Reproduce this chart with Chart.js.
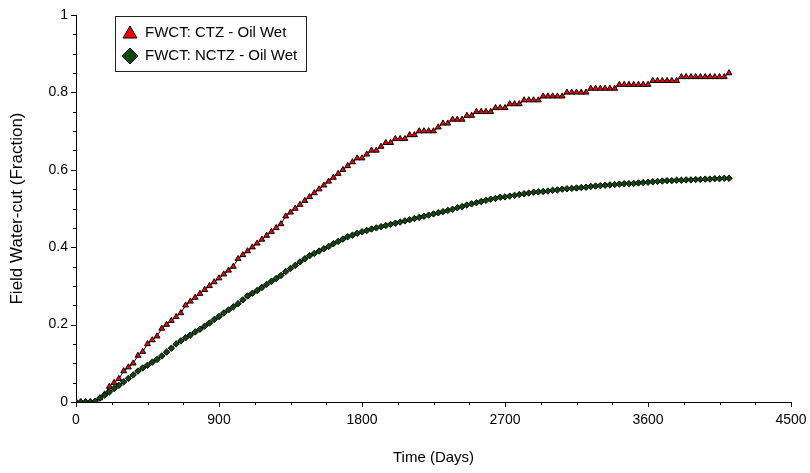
<!DOCTYPE html>
<html>
<head>
<meta charset="utf-8">
<script src="https://cdn.jsdelivr.net/npm/chart.js@4/dist/chart.umd.min.js"></script>
<style>
  body { margin: 0; background: #fff; }
  #wrap { width: 810px; height: 473px; }
</style>
</head>
<body>
<div id="wrap"><canvas id="chart"></canvas></div>
<script>
/*------data--------*/

const times = [
    0, 30, 60, 90, 120, 150, 180, 210, 240, 270,
    300, 330, 360, 390, 420, 450, 480, 510, 540, 570,
    600, 630, 660, 690, 720, 750, 780, 810, 840, 870,
    900, 930, 960, 990, 1020, 1050, 1080, 1110, 1140, 1170,
    1200, 1230, 1260, 1290, 1320, 1350, 1380, 1410, 1440, 1470,
    1500, 1530, 1560, 1590, 1620, 1650, 1680, 1710, 1740, 1770,
    1800, 1830, 1860, 1890, 1920, 1950, 1980, 2010, 2040, 2070,
    2100, 2130, 2160, 2190, 2220, 2250, 2280, 2310, 2340, 2370,
    2400, 2430, 2460, 2490, 2520, 2550, 2580, 2610, 2640, 2670,
    2700, 2730, 2760, 2790, 2820, 2850, 2880, 2910, 2940, 2970,
    3000, 3030, 3060, 3090, 3120, 3150, 3180, 3210, 3240, 3270,
    3300, 3330, 3360, 3390, 3420, 3450, 3480, 3510, 3540, 3570,
    3600, 3630, 3660, 3690, 3720, 3750, 3780, 3810, 3840, 3870,
    3900, 3930, 3960, 3990, 4020, 4050, 4080, 4110
];

// FWCT: CTZ - Oil Wet
const ctz = [
    0, 0, 0, 0, 0, 0.01, 0.02, 0.04, 0.05, 0.06,
    0.08, 0.09, 0.10, 0.12, 0.13, 0.15, 0.16, 0.17, 0.19, 0.20,
    0.21, 0.22, 0.23, 0.25, 0.26, 0.27, 0.28, 0.29, 0.30, 0.31,
    0.32, 0.33, 0.34, 0.35, 0.37, 0.38, 0.39, 0.40, 0.41, 0.42,
    0.43, 0.44, 0.45, 0.46, 0.48, 0.49, 0.50, 0.51, 0.52, 0.53,
    0.54, 0.55, 0.56, 0.57, 0.58, 0.59, 0.60, 0.61, 0.62, 0.63,
    0.63, 0.64, 0.65, 0.65, 0.66, 0.67, 0.67, 0.68, 0.68, 0.68,
    0.69, 0.69, 0.70, 0.70, 0.70, 0.70, 0.71, 0.72, 0.72, 0.73,
    0.73, 0.73, 0.74, 0.74, 0.75, 0.75, 0.75, 0.75, 0.76, 0.76,
    0.76, 0.77, 0.77, 0.77, 0.78, 0.78, 0.78, 0.78, 0.79, 0.79,
    0.79, 0.79, 0.79, 0.80, 0.80, 0.80, 0.80, 0.80, 0.81, 0.81,
    0.81, 0.81, 0.81, 0.81, 0.82, 0.82, 0.82, 0.82, 0.82, 0.82,
    0.82, 0.83, 0.83, 0.83, 0.83, 0.83, 0.83, 0.84, 0.84, 0.84,
    0.84, 0.84, 0.84, 0.84, 0.84, 0.84, 0.84, 0.85
];

// FWCT: NCTZ - Oil Wet
const nctz = [
    0, 0, 0, 0, 0.002, 0.01, 0.018, 0.026, 0.035, 0.043,
    0.052, 0.061, 0.07, 0.08, 0.088, 0.095, 0.103, 0.11, 0.119, 0.129,
    0.139, 0.15, 0.158, 0.166, 0.173, 0.181, 0.188, 0.196, 0.204, 0.213,
    0.221, 0.23, 0.238, 0.246, 0.254, 0.264, 0.274, 0.281, 0.288, 0.296,
    0.304, 0.312, 0.319, 0.327, 0.337, 0.345, 0.353, 0.362, 0.37, 0.378,
    0.384, 0.39, 0.396, 0.402, 0.409, 0.415, 0.421, 0.427, 0.431, 0.436,
    0.44, 0.443, 0.447, 0.45, 0.453, 0.456, 0.459, 0.462, 0.465, 0.468,
    0.471, 0.474, 0.477, 0.48, 0.483, 0.486, 0.489, 0.492, 0.495, 0.498,
    0.502, 0.505, 0.509, 0.512, 0.515, 0.518, 0.521, 0.524, 0.526, 0.529,
    0.53, 0.532, 0.534, 0.536, 0.538, 0.54, 0.542, 0.543, 0.544, 0.545,
    0.547, 0.548, 0.55, 0.551, 0.552, 0.553, 0.554, 0.555, 0.557, 0.558,
    0.559, 0.56, 0.561, 0.562, 0.563, 0.564, 0.564, 0.565, 0.566, 0.567,
    0.568, 0.569, 0.57, 0.571, 0.572, 0.572, 0.573, 0.573, 0.574, 0.574,
    0.575, 0.575, 0.576, 0.576, 0.577, 0.577, 0.578, 0.578
];

const seriesNames = ['FWCT: CTZ - Oil Wet', 'FWCT: NCTZ - Oil Wet'];
const xMax = 4500;
const xStep = 900;
const yStep = 0.2;
const fontFamily = '"Liberation Sans", Arial, sans-serif';

/*------minor ticks--------*/

const tickMarks = {
    id: 'tickMarks',
    afterDraw(chart) {
        const c = chart.ctx;
        const xs = chart.scales.x;
        const ys = chart.scales.y;
        c.save();
        c.strokeStyle = '#000';
        c.lineWidth = 1;
        c.beginPath();
        for (let v = 0; v <= xMax; v += 225) {
            const px = Math.round(xs.getPixelForValue(v)) + 0.5;
            const len = v % xStep === 0 ? 5 : 3;
            c.moveTo(px, ys.bottom);
            c.lineTo(px, ys.bottom + len);
        }
        for (let i = 0; i <= 20; i++) {
            const py = Math.round(ys.getPixelForValue(i * 0.05)) + 0.5;
            const len = i % 4 === 0 ? 5 : 3;
            c.moveTo(xs.left, py);
            c.lineTo(xs.left - len, py);
        }
        c.stroke();
        c.restore();
    }
};

/*------legend box--------*/

const legendBox = {
    id: 'legendBox',
    afterDraw(chart) {
        const c = chart.ctx;
        c.save();
        c.fillStyle = '#fff';
        c.fillRect(115.5, 16.5, 191, 55);
        c.strokeStyle = '#222';
        c.lineWidth = 1;
        c.strokeRect(115.5, 16.5, 191, 55);
        const rows = [33, 56];
        chart.data.datasets.forEach(function (ds, i) {
            c.fillStyle = ds.pointBackgroundColor;
            c.strokeStyle = '#000';
            c.lineWidth = 1;
            Chart.helpers.drawPoint(c, {
                pointStyle: ds.pointStyle,
                radius: 8,
                borderWidth: 1
            }, 130, rows[i] + (i === 0 ? 1 : 0));
            c.fillStyle = '#000';
            c.font = '15px ' + fontFamily;
            c.textBaseline = 'middle';
            c.textAlign = 'left';
            c.fillText(ds.label, 145, rows[i]);
        });
        c.restore();
    }
};

/*------chart--------*/

const ctx = document.getElementById('chart').getContext('2d');
const chart = new Chart(ctx, {
    type: 'scatter',
    data: {
        datasets: [{
            label: seriesNames[0],
            data: times.map((t, i) => ({ x: t, y: ctz[i] })),
            showLine: true,
            borderColor: '#000',
            borderWidth: 1,
            pointStyle: 'triangle',
            pointRadius: 3.4,
            pointBackgroundColor: '#ff0000',
            pointBorderColor: '#000',
            pointBorderWidth: 1,
            order: 2
        }, {
            label: seriesNames[1],
            data: times.map((t, i) => ({ x: t, y: nctz[i] })),
            showLine: true,
            borderColor: '#000',
            borderWidth: 1,
            pointStyle: 'rectRot',
            pointRadius: 3.2,
            pointBackgroundColor: '#0b4a0b',
            pointBorderColor: '#000',
            pointBorderWidth: 1,
            order: 1
        }]
    },
    options: {
        responsive: true,
        maintainAspectRatio: false,
        animation: false,
        layout: { padding: { left: 0, top: 15, right: 19, bottom: 0 } },
        plugins: {
            legend: { display: false },
            tooltip: { enabled: false }
        },
        scales: {
            x: {
                type: 'linear',
                min: 0,
                max: xMax,
                grid: { display: false, drawTicks: false },
                border: { display: true, color: '#000', width: 1 },
                ticks: {
                    stepSize: xStep,
                    padding: 10,
                    color: '#000',
                    maxRotation: 0,
                    font: { family: fontFamily, size: 14 },
                    callback: (v) => String(v)
                },
                title: {
                    display: true,
                    text: 'Time (Days)',
                    color: '#000',
                    padding: { top: 6, bottom: 6 },
                    font: { family: fontFamily, size: 15 }
                },
                afterFit(scale) {
                    scale.height = 71;
                    scale.paddingRight = 0;
                    scale.paddingLeft = 0;
                }
            },
            y: {
                min: 0,
                max: 1,
                grid: { display: false, drawTicks: false },
                border: { display: true, color: '#000', width: 1 },
                ticks: {
                    stepSize: yStep,
                    padding: 8,
                    color: '#000',
                    font: { family: fontFamily, size: 14 },
                    callback: (v) => String(Math.round(v * 10) / 10)
                },
                title: {
                    display: true,
                    text: 'Field Water-cut (Fraction)',
                    color: '#000',
                    padding: { top: 7, bottom: 7 },
                    font: { family: fontFamily, size: 17 }
                },
                afterFit(scale) {
                    scale.width = 76;
                    scale.paddingTop = 0;
                    scale.paddingBottom = 0;
                }
            }
        }
    },
    plugins: [tickMarks, legendBox]
});
</script>
</body>
</html>
